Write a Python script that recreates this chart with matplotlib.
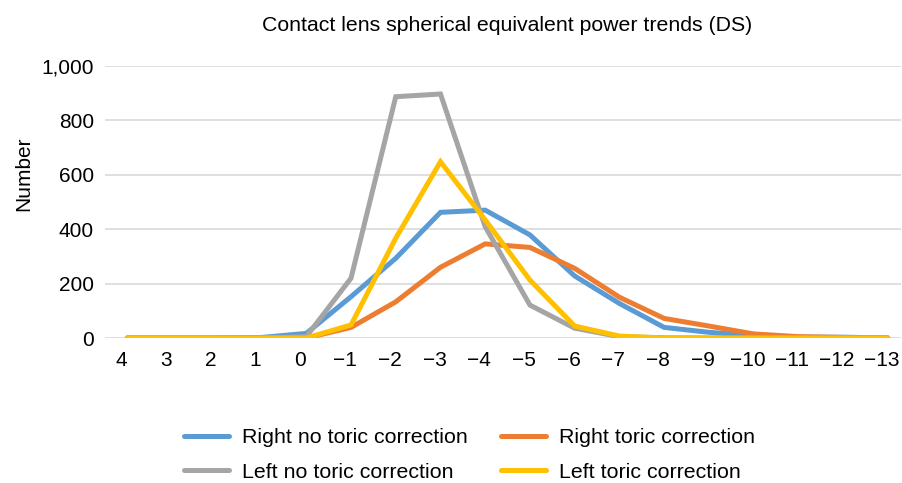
import matplotlib
matplotlib.use("Agg")
import matplotlib.pyplot as plt
import matplotlib.transforms as mtransforms
from matplotlib.ticker import FuncFormatter

plt.rcParams['font.family'] = ['Liberation Sans', 'DejaVu Sans']

categories = ["4", "3", "2", "1", "0", "\u22121", "\u22122", "\u22123", "\u22124", "\u22125",
              "\u22126", "\u22127", "\u22128", "\u22129", "\u221210", "\u221211", "\u221212", "\u221213"]

right_no_toric = [0, 0, 0, 2, 17, 152, 293, 462, 470, 379, 228, 127, 39, 21, 8, 3, 3, 0]
right_toric    = [0, 0, 0, 0, 0, 39, 133, 260, 346, 333, 256, 150, 72, 44, 15, 5, 2, 0]
left_no_toric  = [0, 0, 0, 0, 5, 220, 887, 897, 409, 121, 36, 5, 1, 0, 0, 0, 0, 0]
left_toric     = [0, 0, 0, 0, 0, 48, 367, 648, 434, 213, 44, 7, 0, 0, 0, 0, 0, 0]

series = [
    ("Right no toric correction", right_no_toric, "#5B9BD5"),
    ("Right toric correction", right_toric, "#ED7D31"),
    ("Left no toric correction", left_no_toric, "#A5A5A5"),
    ("Left toric correction", left_toric, "#FFC000"),
]

FS = 15

fig = plt.figure(figsize=(9.03, 4.83), dpi=100)
ax = fig.add_axes([0.1163, 0.3002, 0.8817, 0.5632])

x = list(range(len(categories)))
lines = []
for name, vals, col in series:
    ln, = ax.plot(x, vals, color=col, lw=3.6, label=name, solid_capstyle='round', solid_joinstyle='miter')
    lines.append(ln)

ax.set_ylim(0, 1000)
ax.set_xlim(-0.5, 17.3)
ax.set_yticks([0, 200, 400, 600, 800, 1000])
ax.yaxis.set_major_formatter(FuncFormatter(lambda v, p: f"{int(v):,}"))
ax.set_xticks(x)
ax.set_xticklabels(categories)
ax.grid(axis='y', color='#D9D9D9', lw=1.2)
ax.set_axisbelow(True)
for s in ax.spines.values():
    s.set_visible(False)
ax.tick_params(axis='both', length=0, labelsize=FS, colors='black')
ax.tick_params(axis='y', pad=8)
ax.tick_params(axis='x', pad=9)

offset = mtransforms.ScaledTranslation(-6 / 100, 0, fig.dpi_scale_trans)
for lab in ax.get_xticklabels():
    lab.set_transform(lab.get_transform() + offset)

fig.text(0.5615, 0.948, "Contact lens spherical equivalent power trends (DS)", ha='center', va='center', fontsize=15.3)
fig.text(0.026, 0.64, "Number", rotation=90, ha='center', va='center', fontsize=FS)

order = [0, 2, 1, 3]
fig.legend([lines[i] for i in order], [series[i][0] for i in order], loc='center',
           bbox_to_anchor=(0.52, 0.058), ncol=2, frameon=False, borderaxespad=0, borderpad=0.2,
           fontsize=15.4, handlelength=2.1, columnspacing=1.55, labelspacing=0.74, handletextpad=0.6)

fig.savefig("out.png", dpi=100)
